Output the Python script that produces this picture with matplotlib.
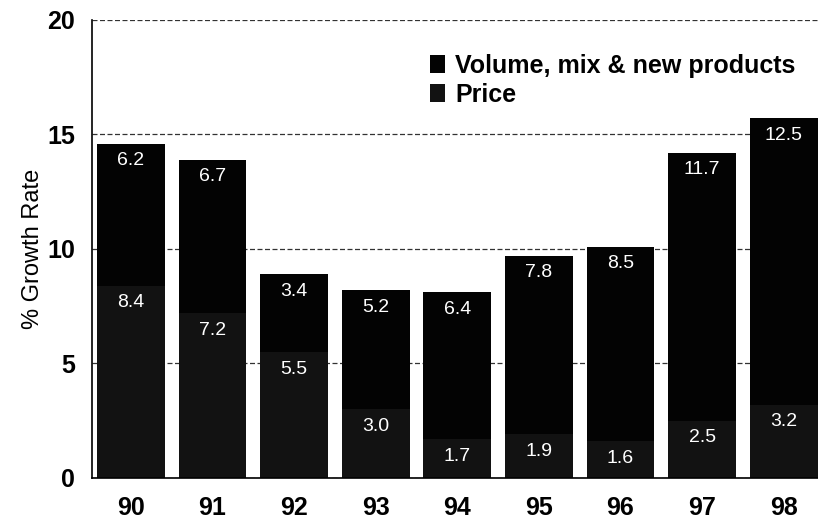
import matplotlib.pyplot as plt
import numpy as np

plt.rcParams["font.family"] = ["Liberation Sans", "DejaVu Sans"]

years = ["90", "91", "92", "93", "94", "95", "96", "97", "98"]
price = [8.4, 7.2, 5.5, 3.0, 1.7, 1.9, 1.6, 2.5, 3.2]
volume = [6.2, 6.7, 3.4, 5.2, 6.4, 7.8, 8.5, 11.7, 12.5]

x = np.arange(len(years))
price = np.array(price)
volume = np.array(volume)

fig = plt.figure(figsize=(8.18, 5.24), dpi=100)
ax = fig.add_axes([0.112, 0.088, 0.888, 0.874])

ax.set_axisbelow(True)
ax.yaxis.grid(True, linestyle=(0, (4, 2)), color="#333333", linewidth=0.9)

b_price = ax.bar(x, price, width=0.83, color="#121212", label="Price")
b_vol = ax.bar(x, volume, width=0.83, bottom=price, color="#030303",
               label="Volume, mix & new products")

for xi, p, v in zip(x, price, volume):
    ax.text(xi, p - 0.75, f"{p:.1f}", ha="center", va="center",
            color="white", fontsize=14)
    ax.text(xi, p + v - 0.75, f"{v:.1f}", ha="center", va="center",
            color="white", fontsize=14)

ax.set_ylim(0, 20)
ax.set_xlim(-0.48, 8.42)
ax.set_yticks([0, 5, 10, 15, 20])
ax.set_xticks(x)
ax.set_xticklabels(years)
for lab in ax.get_xticklabels() + ax.get_yticklabels():
    lab.set_fontweight("bold")
    lab.set_fontsize(18)
ax.tick_params(axis="both", length=0)
ax.tick_params(axis="x", pad=13)
ax.tick_params(axis="y", pad=12)

ax.spines["top"].set_visible(False)
ax.spines["right"].set_visible(False)
ax.spines["left"].set_linewidth(1.2)
ax.spines["bottom"].set_linewidth(1.2)

ax.set_ylabel("% Growth Rate", fontsize=17, labelpad=2)

leg = ax.legend(handles=[b_vol, b_price], loc="upper right",
                bbox_to_anchor=(1.0, 0.975), frameon=False,
                prop={"weight": "bold", "size": 18},
                handlelength=0.6, handleheight=0.7, handletextpad=0.4,
                labelspacing=0.2)

fig.savefig("out.png", dpi=100)
